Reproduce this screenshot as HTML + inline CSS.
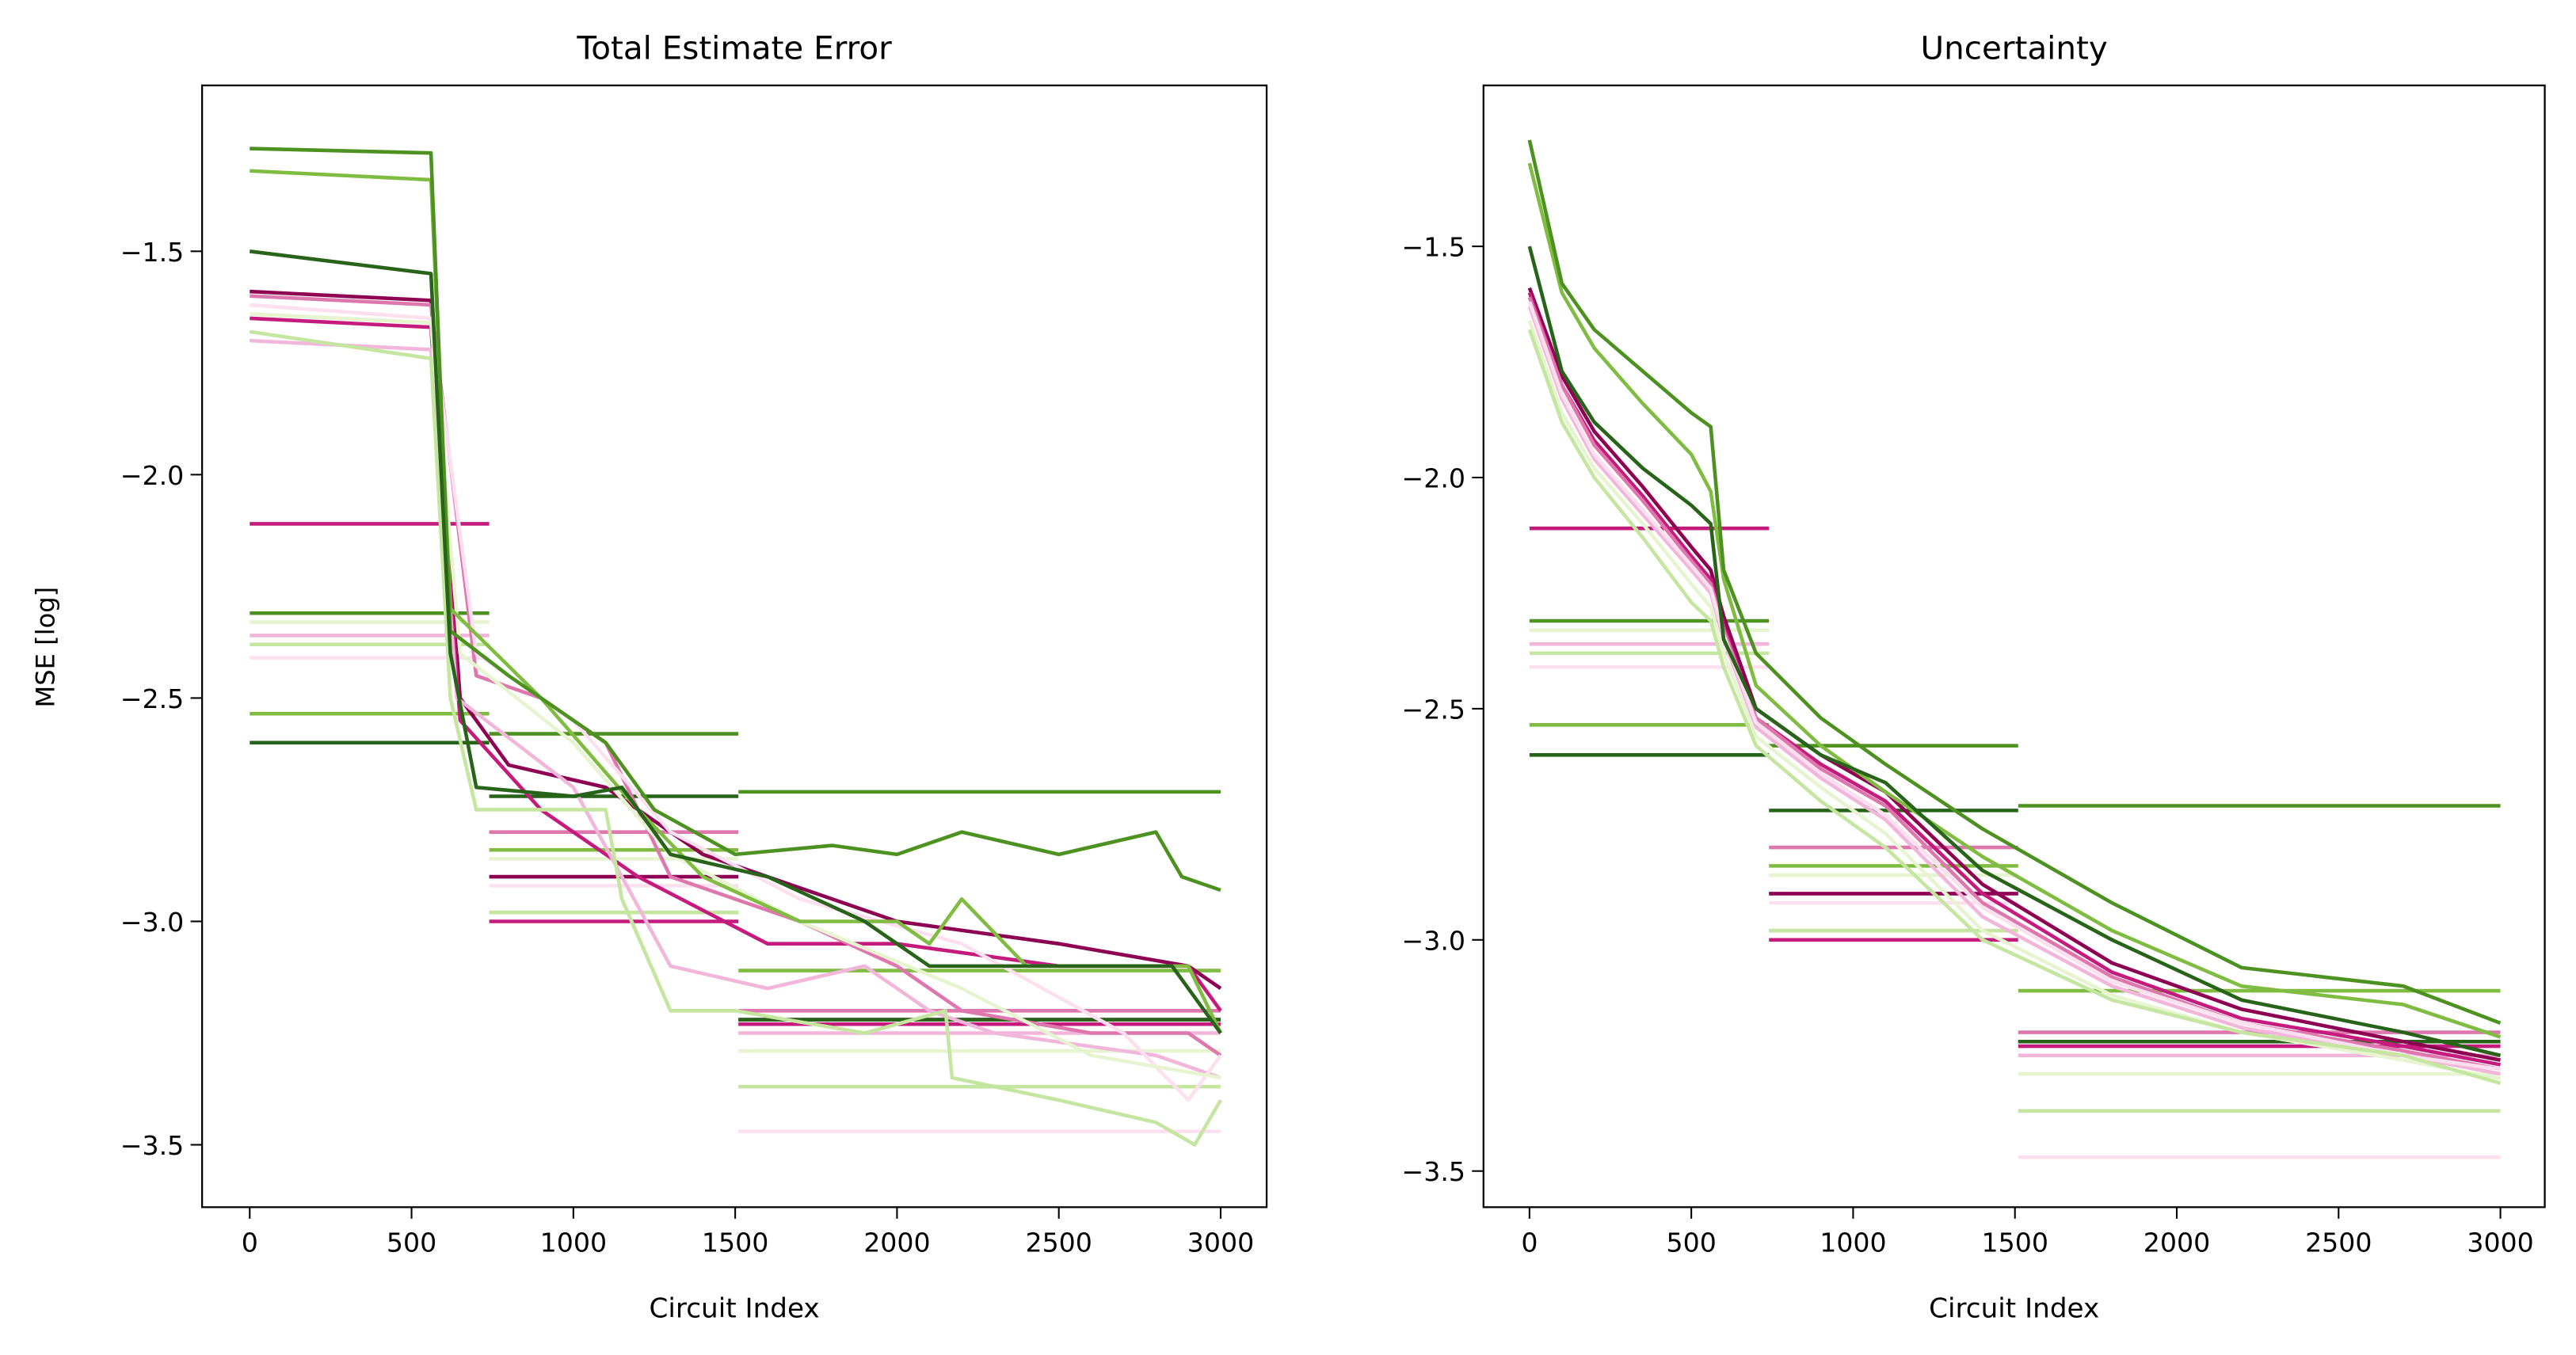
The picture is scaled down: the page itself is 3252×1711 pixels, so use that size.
<!DOCTYPE html>
<html><head><meta charset="utf-8"><style>
html,body{margin:0;padding:0;background:#fff;}
svg{display:block;font-family:"DejaVu Sans","Liberation Sans",sans-serif;}
</style></head><body>
<svg id="fig" width="3252" height="1711" viewBox="0 0 1568 825" xmlns="http://www.w3.org/2000/svg">
<rect width="1568" height="825" fill="#fff"/>
<g id="left"></g>
<g id="right"></g>
</svg>
<script>
const xTicks = [0, 500, 1000, 1500, 2000, 2500, 3000];
const yTicks = [-1.5, -2.0, -2.5, -3.0, -3.5];
const seriesNames = ["s1","s2","s3","s4","s5","s6","s7","s8","s9","s10"];
const seriesColors = ["#8e0152","#c51b7d","#de77ae","#f1b6da","#fde0ef","#e6f5d0","#c5e6a0","#7fbc41","#4d9221","#276419"];
const errX = [
 [0,560,650,800,1100,1400,1800,2000,2500,2900,3000],
 [0,560,650,900,1200,1600,2000,2500,2900,3000],
 [0,560,700,900,1100,1300,1700,2000,2200,2600,2900,3000],
 [0,560,640,1000,1150,1300,1600,1900,2100,2300,2800,3000],
 [0,560,700,1000,1300,1700,2200,2700,2900,3000],
 [0,560,650,1000,1300,1700,2200,2600,3000],
 [0,560,620,700,1100,1150,1300,1500,1900,2150,2170,2500,2800,2920,3000],
 [0,560,620,900,1200,1400,1700,2000,2100,2200,2400,2900,3000],
 [0,560,620,800,1100,1250,1500,1800,2000,2200,2500,2800,2880,3000],
 [0,560,620,700,1000,1150,1300,1600,1900,2100,2500,2850,3000]
];
const errY = [
 [-1.59,-1.61,-2.5,-2.65,-2.7,-2.85,-2.95,-3.0,-3.05,-3.1,-3.15],
 [-1.65,-1.67,-2.55,-2.75,-2.9,-3.05,-3.05,-3.1,-3.1,-3.2],
 [-1.6,-1.62,-2.45,-2.5,-2.6,-2.9,-3.0,-3.1,-3.2,-3.25,-3.25,-3.3],
 [-1.7,-1.72,-2.5,-2.7,-2.9,-3.1,-3.15,-3.1,-3.2,-3.25,-3.3,-3.35],
 [-1.62,-1.65,-2.4,-2.55,-2.8,-2.95,-3.05,-3.25,-3.4,-3.3],
 [-1.64,-1.66,-2.4,-2.6,-2.85,-3.0,-3.15,-3.3,-3.35],
 [-1.68,-1.74,-2.5,-2.75,-2.75,-2.95,-3.2,-3.2,-3.25,-3.2,-3.35,-3.4,-3.45,-3.5,-3.4],
 [-1.32,-1.34,-2.3,-2.5,-2.75,-2.9,-3.0,-3.0,-3.05,-2.95,-3.1,-3.1,-3.25],
 [-1.27,-1.28,-2.35,-2.45,-2.6,-2.75,-2.85,-2.83,-2.85,-2.8,-2.85,-2.8,-2.9,-2.93],
 [-1.5,-1.55,-2.4,-2.7,-2.72,-2.7,-2.85,-2.9,-3.0,-3.1,-3.1,-3.1,-3.25]
];
const uncX = [0,100,200,350,500,560,600,700,900,1100,1400,1800,2200,2700,3000];
const uncY = [
 [-1.59,-1.78,-1.9,-2.02,-2.15,-2.2,-2.3,-2.5,-2.6,-2.68,-2.88,-3.05,-3.15,-3.22,-3.26],
 [-1.6,-1.8,-1.92,-2.04,-2.17,-2.22,-2.32,-2.52,-2.62,-2.7,-2.9,-3.07,-3.17,-3.23,-3.27],
 [-1.61,-1.8,-1.93,-2.05,-2.18,-2.23,-2.33,-2.52,-2.63,-2.71,-2.92,-3.08,-3.18,-3.24,-3.28],
 [-1.63,-1.83,-1.96,-2.08,-2.2,-2.25,-2.35,-2.54,-2.65,-2.74,-2.95,-3.1,-3.19,-3.25,-3.29],
 [-1.62,-1.82,-1.95,-2.07,-2.19,-2.24,-2.34,-2.53,-2.64,-2.73,-2.93,-3.09,-3.18,-3.25,-3.28],
 [-1.66,-1.86,-1.98,-2.1,-2.23,-2.28,-2.38,-2.56,-2.67,-2.77,-2.98,-3.12,-3.2,-3.26,-3.3],
 [-1.68,-1.88,-2.0,-2.13,-2.27,-2.31,-2.41,-2.58,-2.7,-2.8,-3.0,-3.13,-3.2,-3.25,-3.31],
 [-1.32,-1.6,-1.72,-1.84,-1.95,-2.03,-2.22,-2.45,-2.58,-2.68,-2.82,-2.98,-3.1,-3.14,-3.21],
 [-1.27,-1.58,-1.68,-1.77,-1.86,-1.89,-2.2,-2.38,-2.52,-2.62,-2.76,-2.92,-3.06,-3.1,-3.18],
 [-1.5,-1.77,-1.88,-1.98,-2.06,-2.1,-2.35,-2.5,-2.6,-2.66,-2.85,-3.0,-3.13,-3.2,-3.25]
];
const stageBounds = [0, 740, 1510, 3000];
const stage1 = [null,-2.11,null,-2.36,-2.41,-2.33,-2.38,-2.535,-2.31,-2.6];
const stage2 = [-2.9,-3.0,-2.8,-2.98,-2.92,-2.86,-2.98,-2.84,-2.58,-2.72];
const stage3 = [-3.22,-3.23,-3.2,-3.25,-3.47,-3.29,-3.37,-3.11,-2.71,-3.22];

const NS = "http://www.w3.org/2000/svg";
function mk(parent, tag, attrs){const e=document.createElementNS(NS,tag);for(const k in attrs)e.setAttribute(k,attrs[k]);parent.appendChild(e);return e;}

function panel(g, cfg){
  const sx = v => cfg.x0 + (v-0)*(cfg.x3000-cfg.x0)/3000;
  const sy = v => cfg.yA + (-1.5 - v)*(cfg.yB-cfg.yA)/2.0;
  const stages=[stage1,stage2,stage3];
  for(let s=0;s<3;s++){
    for(let i=0;i<seriesColors.length;i++){
      const v=stages[s][i]; if(v===null) continue;
      const l=mk(g,"line",{x1:sx(stageBounds[s]),x2:sx(stageBounds[s+1]),y1:sy(v),y2:sy(v),stroke:seriesColors[i],"stroke-width":2.2});
      
      
    }
  }
  for(let i=0;i<seriesColors.length;i++){
    const xs = cfg.xs(i), ys = cfg.ys(i);
    let d="";
    for(let k=0;k<xs.length;k++){d+=(k?"L":"M")+sx(xs[k]).toFixed(2)+","+sy(ys[k]).toFixed(2);}
    const p=mk(g,"path",{d:d,fill:"none",stroke:seriesColors[i],"stroke-width":2.2,"stroke-linejoin":"round"});
    
    
  }
  const fr=mk(g,"rect",{x:cfg.L,y:52,width:cfg.R-cfg.L,height:683,fill:"none",stroke:"#000","stroke-width":1.1});
  
  
  xTicks.forEach(t=>{
    mk(g,"line",{x1:sx(t),x2:sx(t),y1:735,y2:742,stroke:"#000","stroke-width":1});
    const tx=mk(g,"text",{x:sx(t),y:762,"text-anchor":"middle","font-size":16});
    tx.textContent=t;
    
    
  });
  yTicks.forEach(t=>{
    mk(g,"line",{x1:cfg.L-7,x2:cfg.L,y1:sy(t),y2:sy(t),stroke:"#000","stroke-width":1});
    const tx=mk(g,"text",{x:cfg.L-11,y:sy(t)+6,"text-anchor":"end","font-size":16});
    tx.textContent="\u2212"+Math.abs(t).toFixed(1);
    
    
  });
  const xl=mk(g,"text",{x:(cfg.L+cfg.R)/2,y:802,"text-anchor":"middle","font-size":16.5});
  xl.textContent="Circuit Index";
  
  
  const ti=mk(g,"text",{x:(cfg.L+cfg.R)/2,y:36,"text-anchor":"middle","font-size":19.5});
  ti.textContent=cfg.title;
  
  
}
panel(document.getElementById("left"),{L:123,R:771,x0:152,x3000:743,yA:153,yB:697,title:"Total Estimate Error",xs:i=>errX[i],ys:i=>errY[i]});
panel(document.getElementById("right"),{L:903,R:1549,x0:931,x3000:1522,yA:150,yB:713,title:"Uncertainty",xs:i=>uncX,ys:i=>uncY[i]});
const yl=mk(document.getElementById("left"),"text",{x:0,y:0,"text-anchor":"middle","font-size":15.5,transform:"translate(33,394) rotate(-90)"});
yl.textContent="MSE [log]";


</script>
</body></html>
